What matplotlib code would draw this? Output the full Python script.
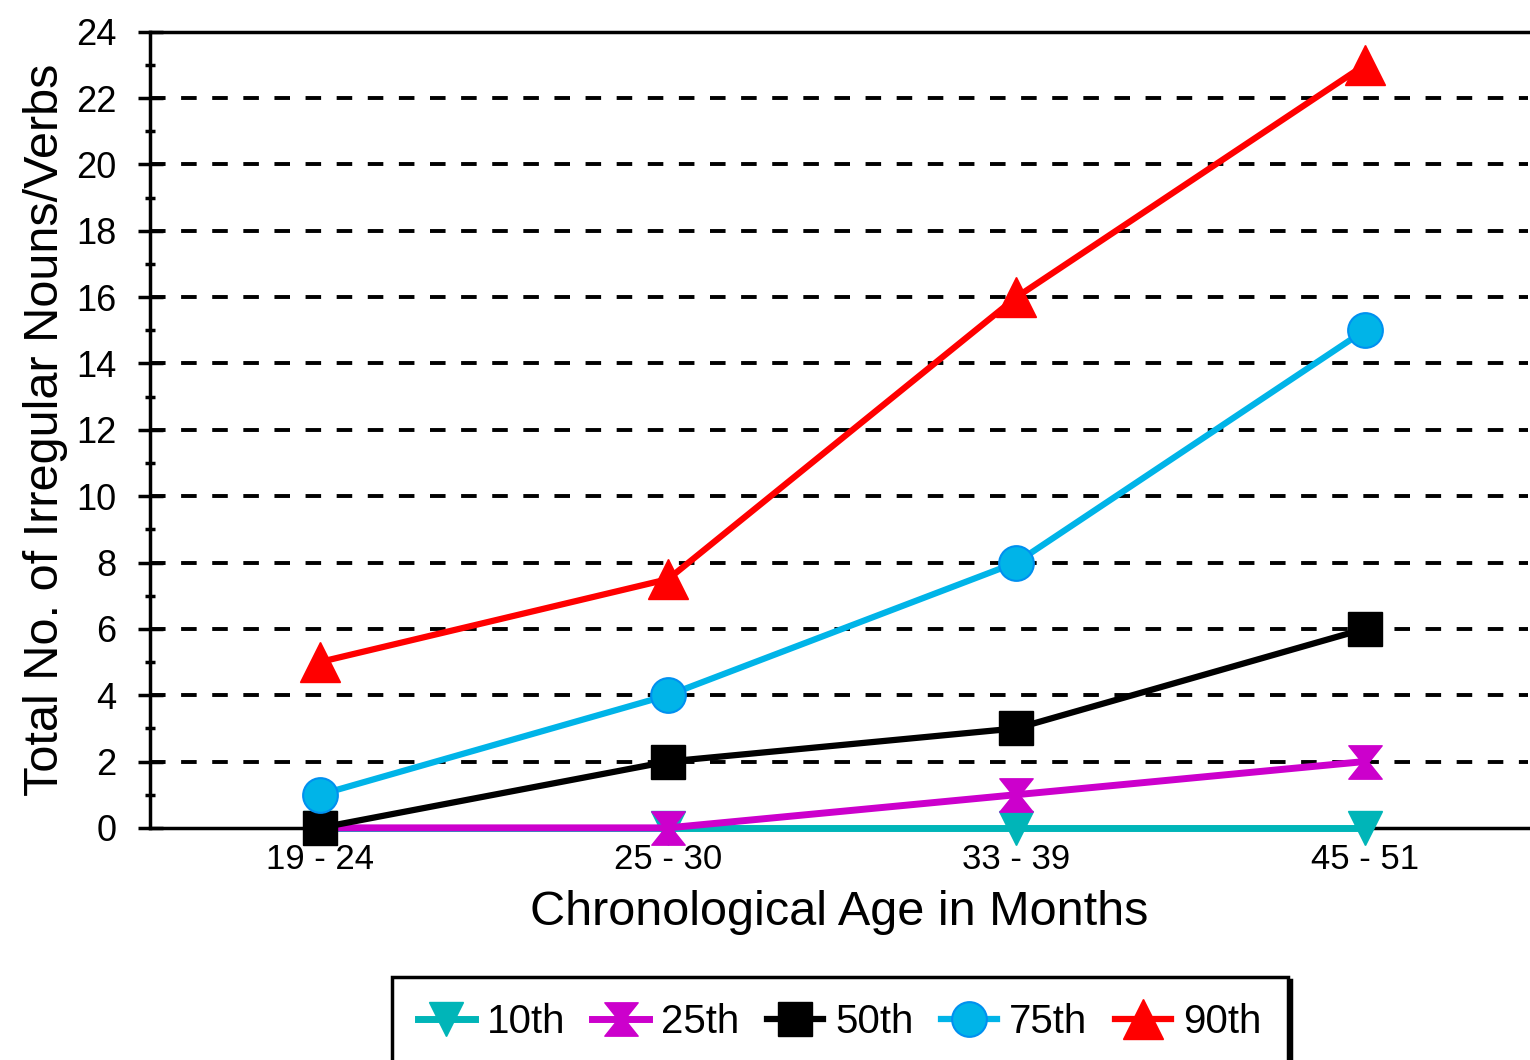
import matplotlib.pyplot as plt
from matplotlib.path import Path

plt.rcParams['font.family'] = ['Liberation Sans', 'DejaVu Sans']

ages = ['19 - 24', '25 - 30', '33 - 39', '45 - 51']
p10 = [0, 0, 0, 0]
p25 = [0, 0, 1, 2]
p50 = [0, 2, 3, 6]
p75 = [1, 4, 8, 15]
p90 = [5, 7.5, 16, 23]

# hourglass marker for the 25th percentile
hourglass = Path([(-1, 1), (1, 1), (0.2, 0), (1, -1), (-1, -1), (-0.2, 0), (-1, 1)],
                 [Path.MOVETO] + [Path.LINETO] * 5 + [Path.CLOSEPOLY])

fig = plt.figure(figsize=(15.3, 10.6), dpi=100)
ax = fig.add_axes([0.098, 0.219, 0.901, 0.751])

x = range(len(ages))
ax.plot(x, p10, color='#00b5b8', lw=5, marker='v', ms=24, label='10th', clip_on=False, zorder=3)
ax.plot(x, p25, color='#cc00cc', lw=5, marker=hourglass, ms=24, label='25th', clip_on=False, zorder=3)
ax.plot(x, p50, color='black', lw=4.5, marker='s', ms=25, label='50th', clip_on=False, zorder=3)
ax.plot(x, p75, color='#00b4e8', lw=4.5, marker='o', ms=25, mec='#0090f0', mew=1.5,
        label='75th', clip_on=False, zorder=3)
ax.plot(x, p90, color='#ff0000', lw=4.5, marker='^', ms=29, label='90th', clip_on=False, zorder=3)

ax.set_xlim(-0.488, 3.47)
ax.set_ylim(0, 24)
ax.set_xticks(list(x))
ax.set_xticklabels(ages)
ax.set_yticks(range(0, 25, 2))
ax.set_yticks(range(1, 24, 2), minor=True)

for y in range(2, 24, 2):
    ax.axhline(y, color='black', lw=2.8, ls=(0, (4, 4)), zorder=0.5)

ax.spines['right'].set_visible(False)
for s in ['left', 'top', 'bottom']:
    ax.spines[s].set_linewidth(2.5)

ax.tick_params(axis='x', length=0, pad=11, labelsize=25)
ax.tick_params(axis='y', which='major', direction='inout', length=18, width=2.5,
               pad=15, labelsize=26)
ax.tick_params(axis='y', which='minor', direction='inout', length=7, width=2.5)

ax.set_xlabel('Chronological Age in Months', fontsize=35, labelpad=10)
ax.set_ylabel('Total No. of Irregular Nouns/Verbs', fontsize=35, labelpad=6)

leg = fig.legend(loc='upper center', bbox_to_anchor=(0.549, 0.0783), ncol=5,
                 fontsize=29, frameon=True, fancybox=False, edgecolor='black',
                 handlelength=1.4, handletextpad=0.3, columnspacing=0.68,
                 borderpad=0.65, borderaxespad=0,
                 shadow={'color': 'black', 'alpha': 1})
leg.get_frame().set_linewidth(2.5)

fig.savefig('out.png', dpi=100)
